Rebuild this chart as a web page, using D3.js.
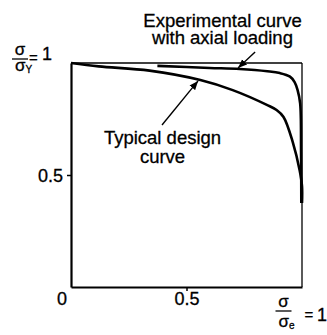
<!DOCTYPE html>
<html>
<head>
<meta charset="utf-8">
<script src="https://cdn.jsdelivr.net/npm/d3@7"></script>
<style>
  html, body { margin: 0; padding: 0; background: #fff; }
  svg { display: block; }
  text { font-family: "Liberation Sans", Arial, Helvetica, sans-serif; fill: #000; stroke: #000; stroke-width: 0.3; }
</style>
</head>
<body>
<svg id="chart" width="327" height="335"></svg>
<script>
// Typical design curve: sigma/sigma_Y against sigma/sigma_e
const designU = [0, 0.12, 0.34, 0.56, 0.70, 0.85, 0.89, 0.92, 0.96, 0.99, 1.0, 1.0];
const designV = [1, 0.985, 0.966, 0.924, 0.879, 0.812, 0.79, 0.759, 0.647, 0.52, 0.45, 0.375];

// Experimental curve with axial loading
const expU = [0.374, 0.60, 0.73, 0.85, 0.904, 0.948, 0.968, 0.981, 0.992, 0.996, 0.997];
const expV = [0.987, 0.978, 0.973, 0.963, 0.955, 0.939, 0.915, 0.879, 0.82, 0.6, 0.375];

// Axis tick labels
const xTicks = [0.5];
const yTicks = [0.5];
const tickLabels = ["0.5"];

// Annotation arrows: [tailU, tailV, tipU, tipV]
const arrowExp = [0.797, 1.049, 0.723, 0.978];
const arrowDesign = [0.394, 0.723, 0.55, 0.92];

const svg = d3.select("#chart");
const x = d3.scaleLinear().domain([0, 1]).range([71, 302]);
const y = d3.scaleLinear().domain([0, 1]).range([287, 63]);

// Frame: thin top and right edges
svg.append("line").attr("x1", x(0)).attr("x2", x(1)).attr("y1", y(1)).attr("y2", y(1))
  .attr("stroke", "#000").attr("stroke-width", 1.3);
svg.append("line").attr("x1", x(1)).attr("x2", x(1)).attr("y1", y(1)).attr("y2", y(0))
  .attr("stroke", "#000").attr("stroke-width", 1.3);

// Axes
const xAxis = svg.append("g").attr("transform", `translate(0,${y(0)})`)
  .call(d3.axisBottom(x).tickValues(xTicks).tickSize(4).tickSizeOuter(0)
    .tickFormat((d, i) => tickLabels[i]));
const yAxis = svg.append("g").attr("transform", `translate(${x(0)},0)`)
  .call(d3.axisLeft(y).tickValues(yTicks).tickSize(4).tickSizeOuter(0)
    .tickFormat((d, i) => tickLabels[i]));
[xAxis, yAxis].forEach(g => {
  g.select(".domain").attr("stroke", "#000").attr("stroke-width", 2.2);
  g.selectAll(".tick line").attr("stroke", "#000").attr("stroke-width", 1.5);
  g.selectAll(".tick text").attr("font-size", 18).attr("font-family", null).attr("fill", null);
});
xAxis.selectAll(".tick text").attr("dy", null).attr("y", 18);
yAxis.selectAll(".tick text").attr("x", -8).attr("dy", "0.36em");

// Origin label
svg.append("text").attr("x", x(0) - 9).attr("y", 305).attr("text-anchor", "middle")
  .attr("font-size", 18).text("0");

// Curves
const line = d3.line().x(d => x(d[0])).y(d => y(d[1])).curve(d3.curveCatmullRom.alpha(0.5));
svg.append("path").datum(d3.zip(designU, designV)).attr("d", line)
  .attr("fill", "none").attr("stroke", "#000").attr("stroke-width", 2.6);
svg.append("path").datum(d3.zip(expU, expV)).attr("d", line)
  .attr("fill", "none").attr("stroke", "#000").attr("stroke-width", 2.6);

// Arrowhead marker
svg.append("defs").append("marker").attr("id", "head")
  .attr("viewBox", "0 0 10 10").attr("refX", 10).attr("refY", 5)
  .attr("markerWidth", 9).attr("markerHeight", 9).attr("markerUnits", "userSpaceOnUse")
  .attr("orient", "auto")
  .append("path").attr("d", "M0,1 L10,5 L0,9 Z").attr("fill", "#000");

[arrowExp, arrowDesign].forEach(a => {
  svg.append("line").attr("x1", x(a[0])).attr("y1", y(a[1]))
    .attr("x2", x(a[2])).attr("y2", y(a[3]))
    .attr("stroke", "#000").attr("stroke-width", 1.4).attr("marker-end", "url(#head)");
});

// Two-line curve labels, one text element each
function label(lines, cx, baseline, step) {
  const t = svg.append("text").attr("text-anchor", "middle").attr("font-size", 18.5);
  lines.forEach((s, i) => {
    t.append("tspan").attr("x", cx).attr("y", baseline + i * step).text(s);
  });
}
label(["Experimental curve", "with axial loading"], 222.5, 27, 17);
label(["Typical design", "curve"], 162.5, 144, 19);

// Stress ratio labels at the unit values: σ over σ_sub, then "= 1"
function ratio(cx, numBase, barY, denBase, sub, eqX, eqBase, oneX, oneBase) {
  svg.append("line").attr("x1", cx - 8).attr("x2", cx + 8).attr("y1", barY).attr("y2", barY)
    .attr("stroke", "#000").attr("stroke-width", 1.3);
  const t = svg.append("text").attr("font-size", 17);
  t.append("tspan").attr("x", cx).attr("y", numBase).attr("text-anchor", "middle").text("σ");
  t.append("tspan").attr("x", cx - 5).attr("y", denBase).text("σ");
  t.append("tspan").attr("font-size", 10).attr("y", denBase + 2).text(sub);
  t.append("tspan").attr("font-size", 15).attr("x", eqX).attr("y", eqBase).text("=");
  t.append("tspan").attr("font-size", 18).attr("x", oneX).attr("y", oneBase).text("1");
}
ratio(20, 55, 59, 71, "Y", 29, 63, 42, 60);
ratio(283.5, 307, 311, 327, "e", 304.5, 320, 317, 321);
</script>
</body>
</html>
